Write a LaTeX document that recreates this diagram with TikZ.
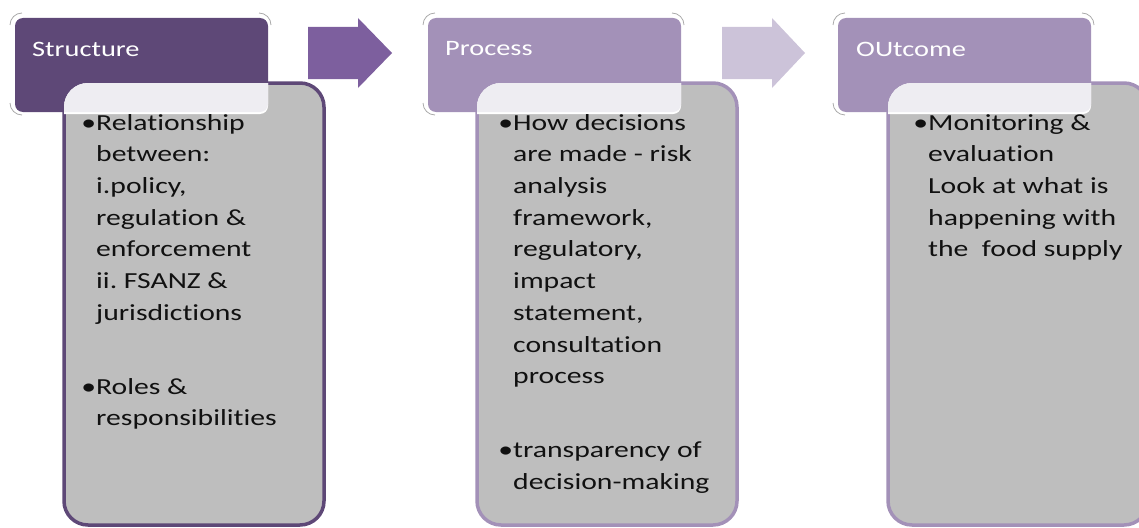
\documentclass[tikz,border=0pt]{standalone}
\usepackage{fontspec}
\setmainfont[FakeStretch=1.29,Ligatures=NoCommon]{Carlito}
\definecolor{darkpurple}{HTML}{5E4877}
\definecolor{arrowone}{HTML}{7D5F9E}
\definecolor{lightpurple}{HTML}{A391B8}
\definecolor{arrowtwo}{HTML}{CCC3D9}
\definecolor{boxgray}{HTML}{BEBEBE}
\definecolor{overlapc}{HTML}{EEEDF2}
\definecolor{bracketc}{HTML}{AAAAAA}
\definecolor{textc}{HTML}{111111}
\tikzset{
  hdrtext/.style={anchor=west, inner sep=0pt, text=white, font=\fontsize{22}{26}\selectfont},
  bodytext/.style={anchor=north west, inner sep=0pt, align=left, text=textc, font=\frenchspacing\fontsize{23}{31.7}\selectfont},
  bracketline/.style={draw=bracketc, line width=0.8pt},
}
\newcommand{\bul}{\llap{•}}
\begin{document}
\begin{tikzpicture}[x=1pt,y=-1pt]
\useasboundingbox (0,0) rectangle (1139,527);
\foreach \hx/\bx/\hc/\bc in {15/64/darkpurple/darkpurple, 428/477/lightpurple/lightpurple, 838/888/lightpurple/lightpurple}{
  % corner brackets
  \draw[bracketline] (\hx-5,25) arc[start angle=180,end angle=270,radius=12];
  \draw[bracketline] (\hx+244,13) arc[start angle=270,end angle=360,radius=12];
  \draw[bracketline] (\hx-5,103) arc[start angle=180,end angle=90,radius=12];
  % header
  \fill[\hc, rounded corners=8pt] (\hx,18) rectangle (\hx+253,112);
  % gray box
  \draw[fill=boxgray, draw=\bc, line width=3.5pt, rounded corners=24pt] (\bx,83) rectangle (\bx+260,525);
  % overlap
  \begin{scope}
    \clip[rounded corners=24pt] (\bx,83) rectangle (\bx+260,525);
    \fill[white, rounded corners=8pt] (\hx,18) rectangle (\hx+253,114);
    \fill[overlapc, rounded corners=8pt] (\hx,18) rectangle (\hx+253,112);
  \end{scope}
}
% arrows
\fill[arrowone] (308,27) -- (358,27) -- (358,18) -- (392,53) -- (358,88) -- (358,79) -- (308,79) -- cycle;
\fill[arrowtwo] (722,27) -- (772,27) -- (772,18) -- (805,53) -- (772,88) -- (772,79) -- (722,79) -- cycle;
% header texts
\node[hdrtext] (h1) at (32,49) {Structure};
\node[hdrtext] (h2) at (445,49) {Process};
\node[hdrtext] (h3) at (856,49) {OUtcome};
% body texts
\node[bodytext] (t1) at (96,114) {\bul Relationship\\between:\\i.policy,\\regulation \&\\enforcement\\ii. FSANZ \&\\jurisdictions\\[42pt]\bul Roles \&\\responsibilities};
\node[bodytext] (t2) at (513,114) {\bul How decisions\\are made - risk\\analysis\\framework,\\regulatory,\\impact\\statement,\\consultation\\process\\[42pt]\bul transparency of\\decision-making};
\node[bodytext] (t3) at (928,114) {\bul Monitoring \&\\evaluation\\Look at what is\\happening with\\the\ \ food supply};
\end{tikzpicture}
\end{document}
